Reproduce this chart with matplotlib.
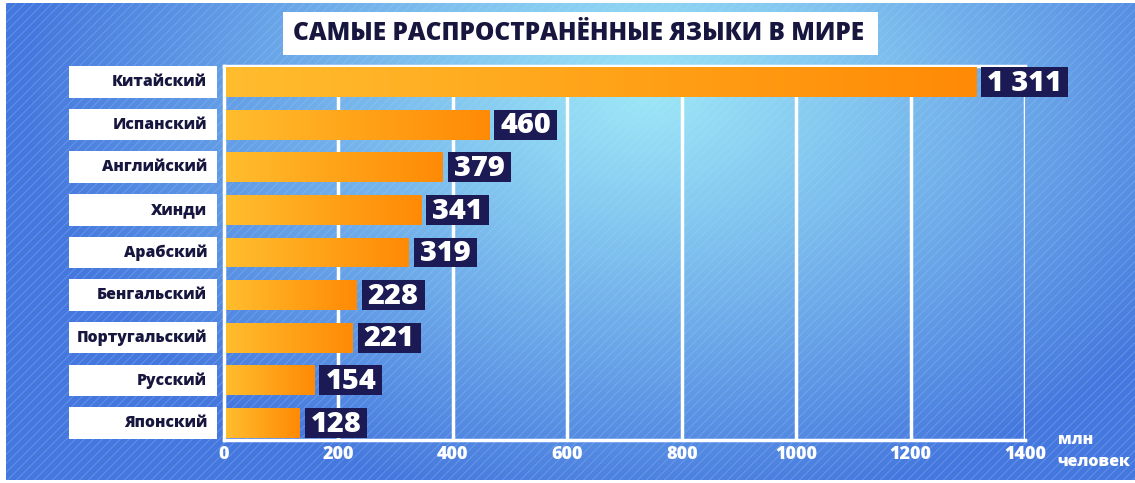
import numpy as np
import matplotlib
matplotlib.use("Agg")
import matplotlib.pyplot as plt
from matplotlib.patches import Rectangle
from matplotlib.colors import LinearSegmentedColormap

plt.rcParams['font.family'] = ['Open Sans', 'DejaVu Sans']
WT = 800

# ---- data ----
languages = ["Китайский", "Испанский", "Английский", "Хинди", "Арабский",
             "Бенгальский", "Португальский", "Русский", "Японский"]
speakers = [1311, 460, 379, 341, 319, 228, 221, 154, 128]
value_labels = ["1 311", "460", "379", "341", "319", "228", "221", "154", "128"]
xticks = [0, 200, 400, 600, 800, 1000, 1200, 1400]
title = "САМЫЕ РАСПРОСТРАНЁННЫЕ ЯЗЫКИ В МИРЕ"
unit_label = "млн\nчеловек"

W, H = 1135, 483
fig = plt.figure(figsize=(W / 100, H / 100), dpi=100)
fig.patch.set_facecolor("white")

# ---- background (decorative gradient with diagonal stripes) ----
bg = fig.add_axes([6 / W, 3 / H, (W - 6) / W, (H - 6) / H], zorder=0)
bw, bh = W - 6, H - 6
yy, xx = np.mgrid[0:bh, 0:bw]
cx, cy = 640, 90
d = np.sqrt(((xx - cx) / 620.0) ** 2 + ((yy - cy) / 420.0) ** 2)
d = np.clip(d, 0, 1) ** 1.1
light = np.array([0x9c, 0xe6, 0xf7]) / 255
dark = np.array([0x45, 0x78, 0xde]) / 255
img = light[None, None, :] * (1 - d[..., None]) + dark[None, None, :] * d[..., None]
stripe = (((xx + yy) % 9) < 2).astype(float)
amt = 0.12 * stripe * (0.3 + 0.7 * d)
img = img * (1 - amt[..., None]) + amt[..., None] * 1.0
bg.imshow(img, aspect="auto", interpolation="bilinear")
bg.set_axis_off()

# ---- main axes ----
x0, x1 = 224, 1025
ytop, ybot = 66, 440
ax = fig.add_axes([x0 / W, 1 - ybot / H, (x1 - x0) / W, (ybot - ytop) / H], zorder=2)
ax.patch.set_alpha(0)
ax.set_xlim(0, 1400)
ax.set_ylim(8.4, -0.375)

ypos = np.arange(len(languages))
bar_h = 0.7
bars = ax.barh(ypos, speakers, height=bar_h, left=4, color="#ffa51a",
               edgecolor="none", zorder=3)

cmap = LinearSegmentedColormap.from_list("og", ["#ffbd2e", "#ff8a05"])
grad = np.linspace(0, 1, 256)[None, :]
for b in bars:
    im = ax.imshow(grad, cmap=cmap, aspect="auto", zorder=4,
                   extent=[b.get_x(), b.get_x() + b.get_width(),
                           b.get_y() + b.get_height(), b.get_y()],
                   interpolation="bilinear")
    im.set_clip_path(b)
ax.set_xlim(0, 1400)
ax.set_ylim(8.4, -0.375)

# grid & spines
for t in xticks[1:]:
    ax.axvline(t, color="white", lw=2.5, zorder=1)
for s in ["top", "left", "bottom"]:
    ax.spines[s].set_color("white")
    ax.spines[s].set_linewidth(2.5)
ax.spines["right"].set_visible(False)

ax.set_xticks(xticks)
ax.set_xticklabels([str(t) for t in xticks], color="white",
                   fontsize=13, fontweight=WT)
ax.tick_params(axis="x", length=0, pad=4)
ax.set_yticks([])

# category label boxes
for i, lab in enumerate(languages):
    ax.add_patch(Rectangle((-0.194, i - 0.37), 0.185, 0.74,
                           transform=ax.get_yaxis_transform(),
                           facecolor="white", edgecolor="none",
                           clip_on=False, zorder=3))
    ax.text(-0.021, i, lab, transform=ax.get_yaxis_transform(),
            ha="right", va="center", fontsize=11.3, fontweight=WT,
            color="#16163f", zorder=4)

# value label boxes
fig.canvas.draw()
renderer = fig.canvas.get_renderer()
px_per_unit = (x1 - x0) / 1400.0
for i, (v, lab) in enumerate(zip(speakers, value_labels)):
    xs = 4 + v + 5 / px_per_unit
    t = ax.text(xs + 6 / px_per_unit, i + 0.03, lab, ha="left", va="center",
                fontsize=20.8, fontweight=WT, color="white", zorder=6,
                clip_on=False)
    ext = t.get_window_extent(renderer)
    wunits = ext.width / px_per_unit + 12 / px_per_unit
    ax.add_patch(Rectangle((xs, i - bar_h / 2), wunits, bar_h,
                           facecolor="#1b1a55", edgecolor="none",
                           zorder=5, clip_on=False))

# unit label
ax.text(1.041, -0.03, unit_label, transform=ax.transAxes, ha="left", va="center",
        fontsize=11.5, fontweight=WT, color="white", linespacing=1.5)

# title
fig.patches.append(Rectangle((283 / W, 1 - 55 / H), (878 - 283) / W, 43 / H,
                             transform=fig.transFigure, facecolor="white",
                             edgecolor="none", zorder=3))
fig.text(579 / W, 1 - 34 / H, title, ha="center", va="center",
         fontsize=17.6, fontweight=WT, color="#16163f", zorder=4)

fig.savefig("out.png", dpi=100)
